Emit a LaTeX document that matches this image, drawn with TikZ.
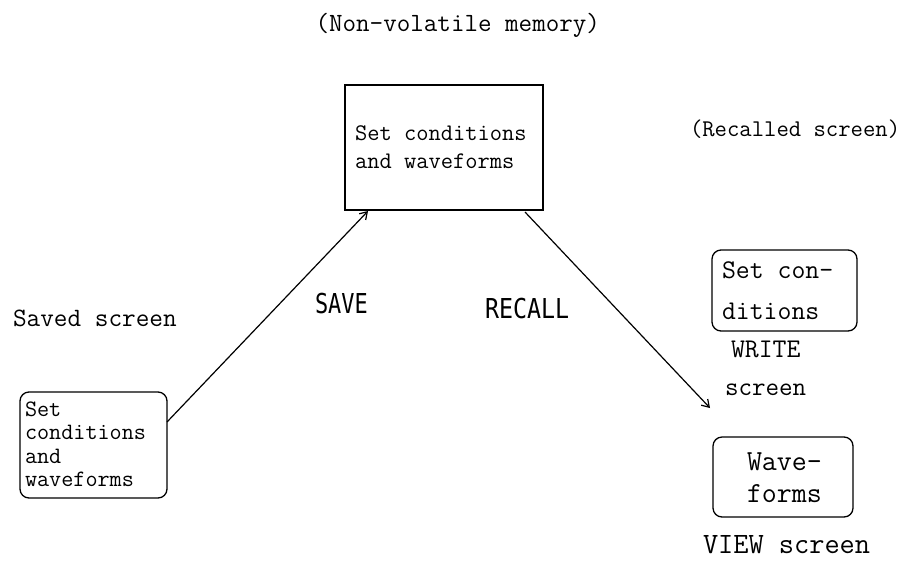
\documentclass[tikz,border=0pt]{standalone}
\usepackage{fontspec}
\newfontfamily\capsfont{DejaVu Sans Mono}
\usetikzlibrary{arrows.meta,calc}
\newcommand\myfs[1]{\fontsize{#1}{#1}\selectfont\ttfamily}
\begin{document}
\begin{tikzpicture}[x=1pt,y=-1pt,
  every node/.style={inner sep=0pt, outer sep=0pt},
  rbox/.style={draw, line width=1.3pt, rounded corners=9pt},
  txt/.style={anchor=base west},
  arr/.style={line width=1.2pt, -{Straight Barb[length=7pt,width=9pt,line width=1.2pt]}}]
\useasboundingbox (0,0) rectangle (917,560);
% boxes
\node[draw, line width=1.4pt, minimum width=198pt, minimum height=125pt] (mem) at (444,147.5) {};
\node[rbox, minimum width=147pt, minimum height=106pt] (lbox) at (93.5,445) {};
\node[rbox, minimum width=145pt, minimum height=81pt] (wbox) at (784.5,290.5) {};
\node[rbox, minimum width=140pt, minimum height=80pt] (vbox) at (783,477) {};
% labels
\node[anchor=base east, font=\myfs{26.3pt}] (title) at (600,31) {(Non-volatile memory)};
\node[txt, font=\myfs{24pt}] (recalled) at (690,136) {(Recalled screen)};
\node[txt, font=\myfs{26.5pt}] (saved) at (13,326) {Saved screen};
\node[txt] (save) at (315,313) {\scalebox{0.8}[1]{\capsfont\fontsize{27.4pt}{28pt}\selectfont SAVE}};
\node[txt] (recall) at (485,318) {\scalebox{0.85}[1]{\capsfont\fontsize{27.4pt}{28pt}\selectfont RECALL}};
% center box text
\node[txt, font=\myfs{23.8pt}] (m1) at (355,140) {Set conditions};
\node[txt, font=\myfs{23.8pt}] (m2) at (355,168) {and waveforms};
% left box text
\node[txt, font=\myfs{23.5pt}] (l1) at (25,416) {Set};
\node[txt, font=\myfs{23.5pt}] (l2) at (25,439.5) {conditions};
\node[txt, font=\myfs{23.5pt}] (l3) at (25,463) {and};
\node[txt, font=\myfs{23.5pt}] (l4) at (25,486.5) {waveforms};
% write box text
\node[txt, font=\myfs{27pt}] (w1) at (722,278) {Set con-};
\node[txt, font=\myfs{27pt}] (w2) at (722,319) {ditions};
\node[txt, font=\myfs{27pt}] (wr) at (731,357) {WRITE};
\node[txt, font=\myfs{26.3pt}] (ws) at (725,395) {screen};
% view box text
\node[txt, font=\myfs{29.1pt}] (v1) at (747,470) {Wave-};
\node[txt, font=\myfs{29.1pt}] (v2) at (747,502) {forms};
\node[txt, font=\myfs{29.5pt}] (vs) at (703,553) {VIEW screen};
% connectors
\coordinate (rtip) at (710,408);
\draw[arr] ($(lbox.north east)+(0,30)$) -- ($(mem.south west)+(23,1)$);
\draw[arr] ($(mem.south east)+(-18,2)$) -- (rtip);
\end{tikzpicture}
\end{document}
